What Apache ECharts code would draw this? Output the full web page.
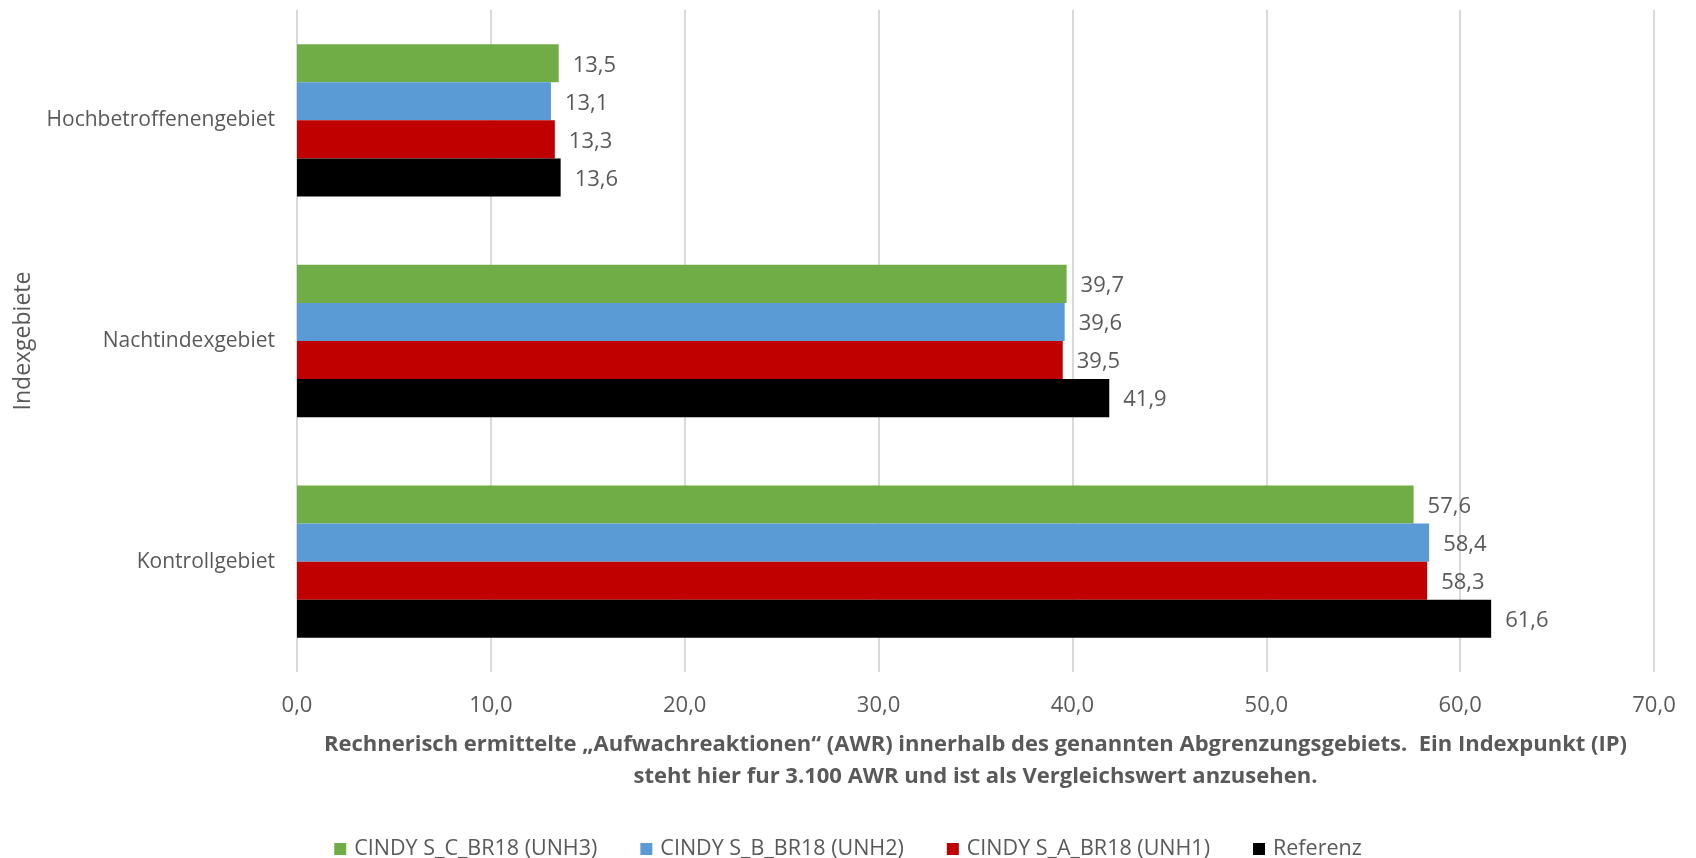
<!DOCTYPE html>
<html>
<head>
<meta charset="utf-8">
<script src="https://cdn.jsdelivr.net/npm/echarts@6/dist/echarts.min.js"></script>
<style>
  html, body { margin: 0; padding: 0; background: #ffffff; }
  #chart { width: 1696px; height: 858px; }
</style>
</head>
<body>
<div id="chart"></div>
<script>
// Categories (bottom to top on the vertical axis)
const categories = ['Kontrollgebiet', 'Nachtindexgebiet', 'Hochbetroffenengebiet'];

// Series values, same order as categories
const seriesNames = ['CINDY S_C_BR18 (UNH3)', 'CINDY S_B_BR18 (UNH2)', 'CINDY S_A_BR18 (UNH1)', 'Referenz'];
const unh3 = [57.6, 39.7, 13.5];
const unh2 = [58.4, 39.6, 13.1];
const unh1 = [58.3, 39.5, 13.3];
const referenz = [61.6, 41.9, 13.6];

// Value axis ticks
const xMin = 0, xMax = 70, xStep = 10;

const colors = ['#70ad47', '#5b9bd5', '#c00000', '#000000'];
const FONT = 'Open Sans';
const TXT = '#595959';

const fmt = v => Number(v).toFixed(1).replace('.', ',');

const values = [unh3, unh2, unh1, referenz];

const chart = echarts.init(document.getElementById('chart'));
chart.setOption({
  animation: false,
  color: colors,
  textStyle: { fontFamily: FONT },
  grid: { left: 297, right: 42, top: 10, bottom: 186, containLabel: false },
  legend: {
    data: seriesNames,
    top: 838,
    left: 'center',
    padding: 0,
    itemWidth: 12,
    itemHeight: 12,
    itemGap: 43,
    icon: 'rect',
    textStyle: { color: TXT, fontSize: 21.5, fontFamily: FONT, padding: [0, 0, 0, 3] }
  },
  xAxis: {
    type: 'value',
    min: xMin, max: xMax, interval: xStep,
    axisLine: { show: false },
    axisTick: { show: false },
    splitLine: { show: true, lineStyle: { color: '#d9d9d9', width: 2 } },
    axisLabel: { color: TXT, fontSize: 22, margin: 23, formatter: fmt },
    name: 'Rechnerisch ermittelte \u201eAufwachreaktionen\u201c (AWR) innerhalb des genannten Abgrenzungsgebiets.  Ein Indexpunkt (IP)\nsteht hier fur 3.100 AWR und ist als Vergleichswert anzusehen.',
    nameLocation: 'middle',
    nameGap: 57,
    nameTextStyle: { color: TXT, fontSize: 22, fontWeight: 'bold', lineHeight: 32, align: 'center' }
  },
  yAxis: {
    type: 'category',
    data: categories,
    axisLine: { show: false },
    axisTick: { show: false },
    axisLabel: { color: TXT, fontSize: 21, margin: 22, padding: [2, 0, 0, 0] },
    name: 'Indexgebiete',
    nameLocation: 'middle',
    nameRotate: 90,
    nameGap: 262,
    nameTextStyle: { color: TXT, fontSize: 23 }
  },
  series: values.map((vals, i) => ({
    name: seriesNames[i],
    type: 'bar',
    data: vals,
    barGap: '0%',
    barCategoryGap: '31%',
    label: {
      show: true,
      position: 'right',
      distance: 14,
      offset: [0, 2],
      color: TXT,
      fontSize: 22,
      formatter: p => fmt(p.value)
    }
  }))
});
</script>
</body>
</html>
